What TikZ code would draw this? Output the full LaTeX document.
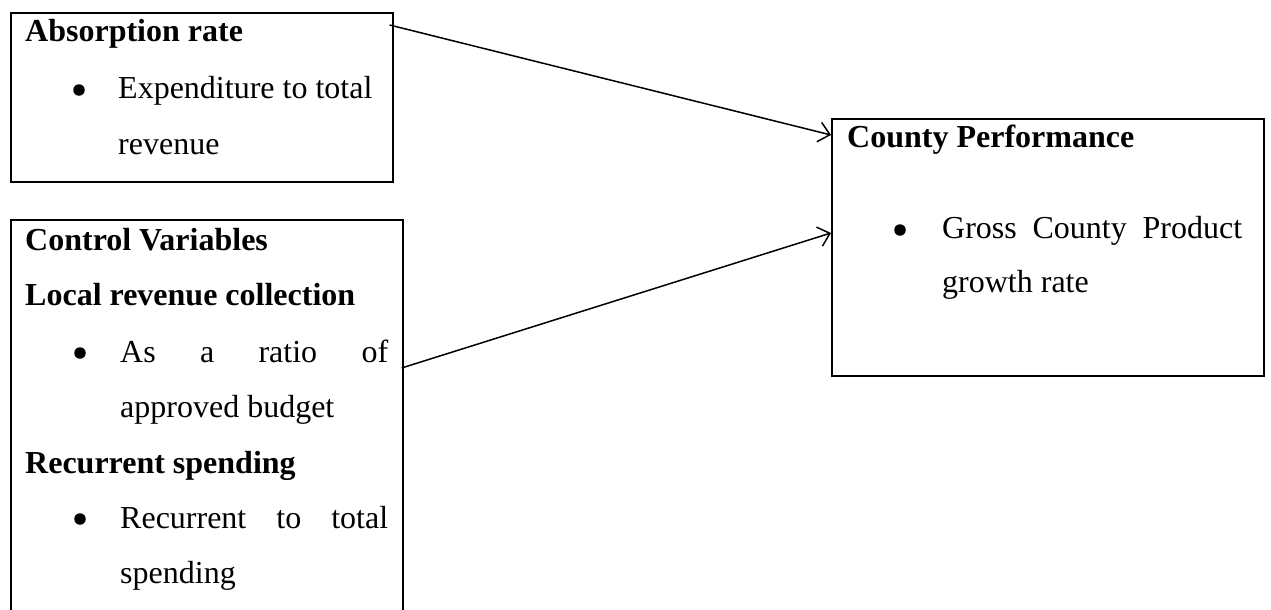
\documentclass[tikz,border=0pt]{standalone}
\usepackage{fontspec}
\setmainfont{Liberation Serif}
\usetikzlibrary{arrows.meta}
\begin{document}
\begin{tikzpicture}[x=1pt,y=-1pt,
  box/.style={draw, line width=1.6pt, rectangle, anchor=north west, inner sep=0pt},
  txt/.style={anchor=base west, inner sep=0pt, font=\fontsize{32}{36}\selectfont},
  hd/.style={anchor=base west, inner sep=0pt, font=\fontsize{32}{36}\selectfont\bfseries},
  blt/.style={circle, fill=black, inner sep=0pt, minimum size=11.5pt},
  conn/.style={line width=1.5pt, -{Straight Barb[length=11pt,width=20pt,line width=1.5pt]}}]
\useasboundingbox (0,0) rectangle (1271,610);
% boxes
\node[box, minimum width=382pt, minimum height=169pt] (box1) at (10,12) {};
\node[box, minimum width=392pt, minimum height=420pt] (box2) at (10,219) {};
\node[box, minimum width=432pt, minimum height=257pt] (box3) at (831,118) {};
% box 1 text
\node[hd] (t1a) at (25,42) {Absorption rate};
\node[blt] (b1) at (79,90) {};
\node[txt] (t1b) at (118,98) {Expenditure to total};
\node[txt] (t1c) at (118,154) {revenue};
% box 2 text
\node[hd] (t2a) at (25,250) {Control Variables};
\node[hd] (t2b) at (25,305) {Local revenue collection};
\node[blt] (b2) at (80,353) {};
\node[txt] (t2c) at (120,362) {\hbox to 268pt{As\hfill a\hfill ratio\hfill of}};
\node[txt] (t2d) at (120,417) {approved budget};
\node[hd] (t2e) at (25,473) {Recurrent spending};
\node[blt] (b3) at (80,519) {};
\node[txt] (t2f) at (120,528) {\hbox to 268pt{Recurrent\hfill to\hfill total}};
\node[txt] (t2g) at (120,583) {spending};
% box 3 text
\node[hd] (t3a) at (847,147) {County Performance};
\node[blt] (b4) at (900,230) {};
\node[txt] (t3b) at (942,238) {\hbox to 300pt{Gross\hfill County\hfill Product}};
\node[txt] (t3c) at (942,292) {growth rate};
% connectors
\coordinate (s1) at ([xshift=-4pt,yshift=-13pt]box1.north east);
\coordinate (e1) at ([yshift=-17pt]box3.north west);
\coordinate (s2) at ([xshift=-2pt,yshift=-149pt]box2.north east);
\coordinate (e2) at ([yshift=-115pt]box3.north west);
\draw[conn] (s1) -- (e1);
\draw[conn] (s2) -- (e2);
\end{tikzpicture}
\end{document}
